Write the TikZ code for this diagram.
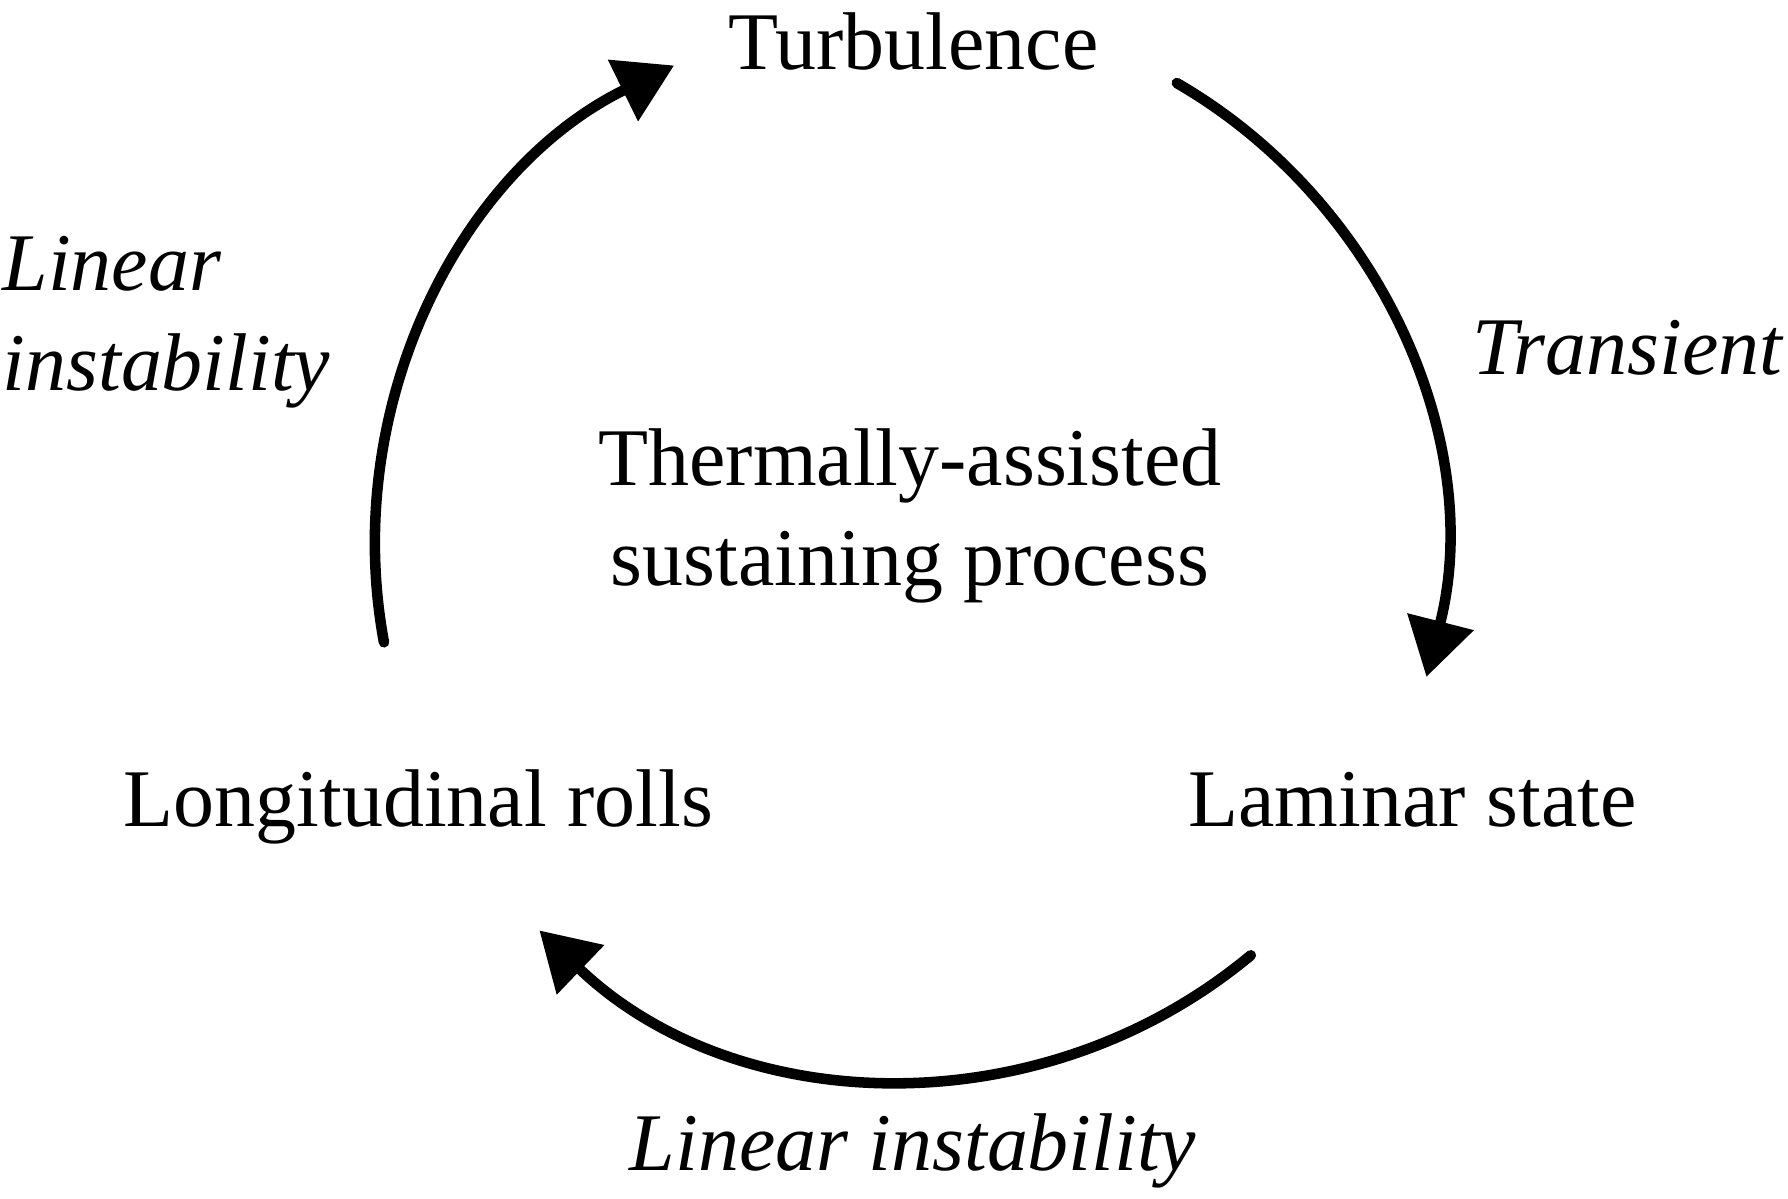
\documentclass[tikz,border=0pt]{standalone}
\usepackage{fontspec}
\setmainfont{Liberation Serif}
\usetikzlibrary{arrows.meta}

\begin{document}
\begin{tikzpicture}[
		state/.style={inner sep=0pt, anchor=base, font=\fontsize{23.3}{28.4}\selectfont},
		process/.style={state, font=\fontsize{23.3}{28.4}\selectfont\itshape},
		cycle/.style={line width=3pt, line cap=round, -{Triangle[length=5.7mm, width=6.6mm]}}
	]
		\useasboundingbox (0,0) rectangle (17.88,-11.98);
		\def\rad{5.34}
		\coordinate (centre) at (9.09,-5.45);
		\node[state] (turb) at (9.135,-0.69) {Turbulence};
		\node[state, anchor=base west] (rolls) at (1.23,-8.26) {Longitudinal rolls};
		\node[state] (lam) at (14.125,-8.26) {Laminar state};
		\node[state, align=center] (tsp) at (9.10,-5.85) {Thermally-assisted\\sustaining process};
		\node[process, anchor=base west, align=left] (rollsturb) at (0.02,-3.90) {Linear\\instability};
		\node[process] (turblam) at (16.275,-3.74) {Transient};
		\node[process] (lamrolls) at (9.13,-11.70) {Linear instability};
		\foreach \a/\b in {190.5/116.1, 59.9/-14.3, -50.2/-133.8}
		{
			\draw[cycle] ([shift={(\a:\rad)}]centre) arc[start angle=\a, end angle=\b, radius=\rad];
		}
	\end{tikzpicture}
\end{document}
